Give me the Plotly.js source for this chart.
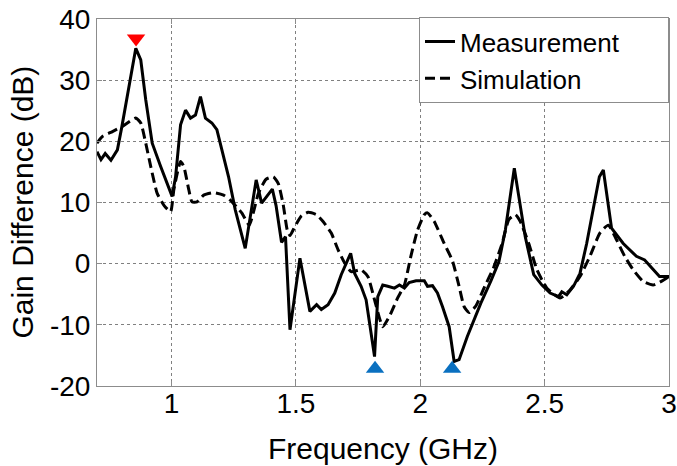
<!DOCTYPE html>
<html>
<head>
<meta charset="utf-8">
<script src="https://cdn.plot.ly/plotly-3.0.1.min.js"></script>
<style>html,body{margin:0;padding:0;background:#fff;}#chart{width:677px;height:466px;}</style>
</head>
<body>
<div id="chart"></div>
<script>
// Measurement (solid)
var freqMeas = [0.700,0.716,0.733,0.756,0.782,0.800,0.856,0.876,0.896,0.922,
  0.956,1.002,1.016,1.036,1.056,1.076,1.096,1.116,1.136,1.162,
  1.182,1.202,1.229,1.256,1.296,1.340,1.362,1.405,1.420,1.442,
  1.458,1.476,1.516,1.556,1.583,1.602,1.629,1.656,1.682,1.720,
  1.736,1.762,1.782,1.796,1.816,1.829,1.849,1.869,1.896,1.916,
  1.936,1.955,1.983,2.016,2.029,2.049,2.069,2.089,2.116,2.136,
  2.156,2.189,2.243,2.283,2.316,2.342,2.362,2.378,2.396,2.422,
  2.456,2.489,2.522,2.556,2.569,2.589,2.616,2.642,2.669,2.696,
  2.720,2.736,2.749,2.769,2.816,2.869,2.902,2.936,2.962,3.000];
var gainMeas = [18.3,17.0,18.0,16.9,18.6,22.4,35.2,33.3,26.8,19.7,
  15.9,11.0,14.2,22.7,25.1,23.8,24.3,27.3,23.8,23.0,
  21.9,18.6,14.2,8.8,2.5,13.7,9.9,12.2,9.5,3.5,
  4.4,-10.8,0.9,-7.8,-6.7,-7.5,-6.7,-4.8,-1.8,1.7,
  -1.6,-3.7,-5.9,-9.7,-15.2,-5.4,-3.5,-3.7,-4.0,-3.5,
  -4.0,-3.1,-2.8,-2.8,-3.7,-3.6,-4.8,-7.0,-10.3,-16.0,
  -15.7,-11.9,-6.5,-2.9,0.3,5.5,11.0,15.6,11.0,4.4,
  -1.8,-3.5,-4.8,-5.4,-4.6,-5.1,-3.7,-1.6,3.3,9.3,
  14.2,15.3,11.5,5.8,3.3,1.2,0.6,-1.0,-2.1,-2.1];

// Simulation (dashed)
var freqSim = [0.700,0.722,0.762,0.800,0.856,0.876,0.896,0.916,0.942,0.970,
  0.996,1.009,1.036,1.049,1.069,1.082,1.102,1.129,1.169,1.209,
  1.236,1.282,1.312,1.349,1.380,1.409,1.429,1.449,1.465,1.476,
  1.496,1.522,1.549,1.583,1.609,1.642,1.669,1.696,1.722,1.762,
  1.789,1.816,1.849,1.876,1.909,1.936,1.962,1.989,2.016,2.029,
  2.056,2.096,2.129,2.156,2.176,2.196,2.222,2.256,2.296,2.329,
  2.356,2.382,2.402,2.436,2.469,2.509,2.562,2.602,2.642,2.682,
  2.722,2.756,2.789,2.822,2.856,2.896,2.936,2.969,3.000];
var gainSim = [19.7,20.8,21.6,22.4,23.8,23.0,19.7,15.9,11.5,9.5,
  8.5,12.1,16.7,15.9,12.1,10.1,10.1,11.2,11.6,11.2,
  10.4,8.3,6.3,11.5,13.8,14.2,13.1,9.6,5.5,4.6,
  6.1,7.8,8.4,8.0,6.9,5.0,2.3,0.1,-1.3,-1.0,
  -2.1,-5.9,-10.3,-8.6,-5.6,-3.5,1.2,5.5,8.0,8.3,
  6.9,3.3,0.5,-3.7,-7.0,-8.0,-7.0,-4.0,-0.5,3.3,
  7.2,8.0,6.9,3.3,-1.0,-4.0,-5.6,-4.3,-2.1,1.2,
  5.0,6.3,3.9,1.2,-1.0,-2.9,-3.5,-2.9,-2.1];

// Markers
var peakFreq = [0.857];
var peakGain = [36.8];
var dipFreq = [1.818, 2.128];
var dipGain = [-17.2, -17.2];

// Ticks
var xTickVals = [1, 1.5, 2, 2.5, 3];
var xTickText = ['1', '1.5', '2', '2.5', '3'];
var yTickVals = [-20, -10, 0, 10, 20, 30, 40];
var yTickText = ['-20', '-10', '0', '10', '20', '30', '40'];

var xTitle = 'Frequency (GHz)';
var yTitle = 'Gain Difference (dB)';

var FONT = 'Liberation Sans, Arial, sans-serif';
var PAD = '\u00a0\u00a0\u00a0\u00a0\u00a0\u00a0';

var traces = [
  {x: freqMeas, y: gainMeas, type: 'scatter', mode: 'lines', name: 'Measurement' + PAD,
   line: {color: '#000', width: 3}},
  {x: freqSim, y: gainSim, type: 'scatter', mode: 'lines', name: 'Simulation' + PAD,
   line: {color: '#000', width: 3, dash: '10px,5px', shape: 'spline', smoothing: 0.5}},
  {x: peakFreq, y: peakGain, type: 'scatter', mode: 'markers', showlegend: false, cliponaxis: false,
   marker: {symbol: 'triangle-down', size: 16, color: '#ff0000'}},
  {x: dipFreq, y: dipGain, type: 'scatter', mode: 'markers', showlegend: false, cliponaxis: false,
   marker: {symbol: 'triangle-up', size: 16, color: '#0a70c0'}}
];

var axisCommon = {
  showgrid: true, gridcolor: '#808080', griddash: 'dot', gridwidth: 1,
  zeroline: false, showline: true, linecolor: '#8c8c8c', linewidth: 1,
  mirror: 'ticks', ticks: 'inside', ticklen: 5, tickcolor: '#8c8c8c',
  ticklabeloverflow: 'allow',
  tickfont: {family: FONT, size: 28, color: '#000'}
};

var layout = {
  width: 677, height: 466,
  margin: {l: 97, r: 8, t: 19, b: 80},
  paper_bgcolor: '#fff', plot_bgcolor: '#fff',
  font: {family: FONT, color: '#000'},
  showlegend: true,
  legend: {x: 1, xanchor: 'right', y: 1.005, yanchor: 'top',
    bgcolor: '#fff', bordercolor: '#8c8c8c', borderwidth: 1,
    font: {family: FONT, size: 26, color: '#000'}, tracegroupgap: 0},
  xaxis: Object.assign({}, axisCommon, {
    range: [0.7, 3], tickmode: 'array', tickvals: xTickVals, ticktext: xTickText,
    ticklabelstandoff: -8,
    title: {text: xTitle, font: {family: FONT, size: 30, color: '#000'}, standoff: 20}
  }),
  yaxis: Object.assign({}, axisCommon, {
    range: [-20, 40], tickmode: 'array', tickvals: yTickVals, ticktext: yTickText
  }),
  annotations: [{
    text: yTitle, xref: 'paper', yref: 'paper', x: -0.131, y: 0.5,
    xanchor: 'center', yanchor: 'middle', textangle: -90, showarrow: false,
    font: {family: FONT, size: 30, color: '#000'}
  }]
};

Plotly.newPlot('chart', traces, layout, {displayModeBar: false, staticPlot: true});
</script>
</body>
</html>
